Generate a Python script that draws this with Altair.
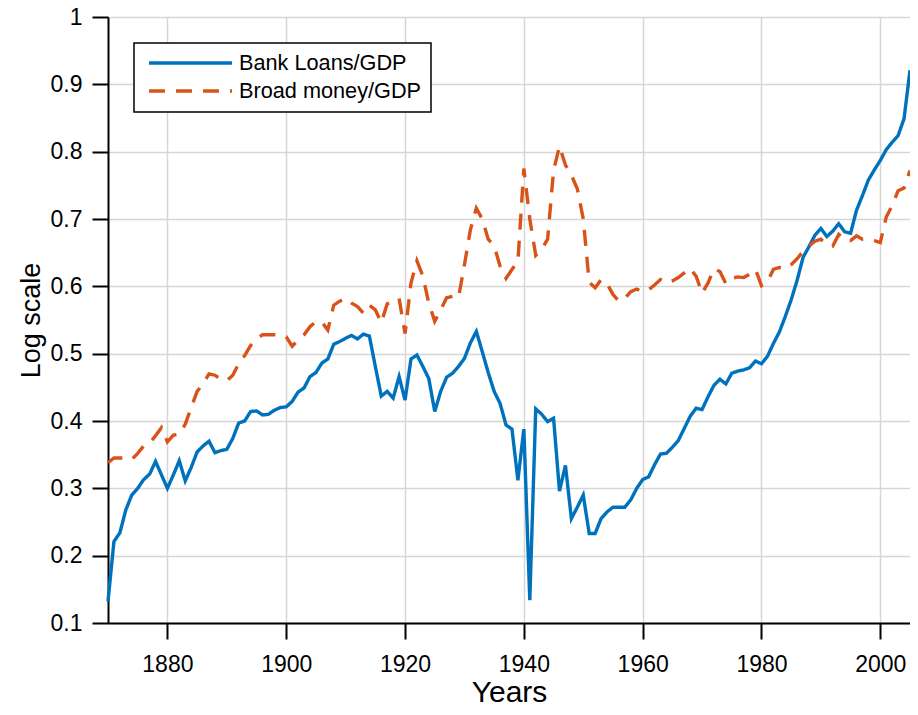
import altair as alt
import pandas as pd

years = list(range(1870, 2006))

bank_loans = [
    0.132, 0.221, 0.234, 0.268, 0.290, 0.300, 0.313, 0.321, 0.340, 0.320,  # 1870s
    0.300, 0.320, 0.341, 0.311, 0.331, 0.354, 0.363, 0.370, 0.353, 0.356,  # 1880s
    0.358, 0.374, 0.397, 0.400, 0.414, 0.415, 0.409, 0.410, 0.416, 0.420,  # 1890s
    0.421, 0.429, 0.443, 0.449, 0.466, 0.472, 0.486, 0.492, 0.514, 0.518,  # 1900s
    0.523, 0.527, 0.522, 0.529, 0.526, 0.481, 0.437, 0.444, 0.434, 0.466,  # 1910s
    0.431, 0.492, 0.498, 0.481, 0.463, 0.414, 0.444, 0.465, 0.471, 0.481,  # 1920s
    0.493, 0.516, 0.533, 0.503, 0.472, 0.444, 0.426, 0.394, 0.388, 0.312,  # 1930s
    0.388, 0.134, 0.418, 0.410, 0.399, 0.404, 0.296, 0.334, 0.255, 0.272,  # 1940s
    0.290, 0.233, 0.233, 0.255, 0.265, 0.272, 0.272, 0.272, 0.283, 0.300,  # 1950s
    0.313, 0.317, 0.335, 0.351, 0.352, 0.361, 0.371, 0.389, 0.407, 0.419,  # 1960s
    0.417, 0.436, 0.453, 0.462, 0.455, 0.471, 0.474, 0.476, 0.479, 0.489,  # 1970s
    0.485, 0.496, 0.515, 0.532, 0.555, 0.580, 0.609, 0.643, 0.659, 0.676,  # 1980s
    0.686, 0.674, 0.682, 0.693, 0.681, 0.679, 0.713, 0.735, 0.758, 0.773,  # 1990s
    0.787, 0.803, 0.814, 0.824, 0.849, 0.921,                              # 2000s
]

broad_money = [
    0.338, 0.345, 0.345, 0.345, 0.343, 0.352, 0.363, 0.367, 0.378, 0.390,  # 1870s
    0.369, 0.379, 0.380, 0.395, 0.420, 0.444, 0.455, 0.470, 0.468, 0.462,  # 1880s
    0.460, 0.468, 0.485, 0.497, 0.512, 0.522, 0.528, 0.528, 0.528, 0.527,  # 1890s
    0.525, 0.511, 0.520, 0.528, 0.540, 0.548, 0.547, 0.535, 0.572, 0.578,  # 1900s
    0.582, 0.575, 0.570, 0.560, 0.572, 0.565, 0.546, 0.574, 0.578, 0.582,  # 1910s
    0.530, 0.605, 0.638, 0.615, 0.575, 0.548, 0.565, 0.583, 0.585, 0.583,  # 1920s
    0.632, 0.684, 0.716, 0.700, 0.670, 0.660, 0.630, 0.612, 0.625, 0.637,  # 1930s
    0.775, 0.700, 0.646, 0.655, 0.670, 0.772, 0.808, 0.780, 0.765, 0.745,  # 1940s
    0.700, 0.606, 0.598, 0.610, 0.604, 0.588, 0.578, 0.582, 0.592, 0.596,  # 1950s
    0.592, 0.595, 0.602, 0.610, 0.605, 0.608, 0.613, 0.620, 0.627, 0.615,  # 1960s
    0.590, 0.605, 0.626, 0.622, 0.604, 0.612, 0.614, 0.613, 0.618, 0.625,  # 1970s
    0.601, 0.607, 0.625, 0.628, 0.626, 0.632, 0.641, 0.652, 0.660, 0.667,  # 1980s
    0.670, 0.662, 0.660, 0.677, 0.668, 0.668, 0.675, 0.670, 0.670, 0.668,  # 1990s
    0.665, 0.703, 0.720, 0.742, 0.746, 0.772,                              # 2000s
]

series_names = ["Bank Loans/GDP", "Broad money/GDP"]
series_colors = ["#0072BD", "#D95319"]
x_ticks = [1880, 1900, 1920, 1940, 1960, 1980, 2000]
y_ticks = [0.1, 0.2, 0.3, 0.4, 0.5, 0.6, 0.7, 0.8, 0.9, 1.0]

df = pd.concat([
    pd.DataFrame({"year": years, "value": bank_loans, "series": series_names[0]}),
    pd.DataFrame({"year": years, "value": broad_money, "series": series_names[1]}),
])

FONT = "Liberation Sans"
LW = 3.4


def make_legend():
    return alt.Legend(
        title=None, orient="none", legendX=26, legendY=26,
        symbolType="M-4.611,0H4.611", symbolSize=324,
        symbolStrokeWidth=LW, symbolOffset=36.5, labelOffset=37.5,
        labelFontSize=21.7, labelFont=FONT, labelColor="black", labelLimit=400,
        strokeColor="black", fillColor="white",
        padding=9, rowPadding=5,
    )


chart = alt.Chart(df).mark_line(strokeWidth=LW).encode(
    x=alt.X("year:Q",
            scale=alt.Scale(domain=[1870, 2005], nice=False, zero=False),
            axis=alt.Axis(values=x_ticks, format="d", title="Years",
                          titleFontSize=30, titleBaseline="alphabetic", titleY=78,
                          labelPadding=14)),
    y=alt.Y("value:Q",
            scale=alt.Scale(domain=[0.1, 1.0], nice=False, zero=False),
            axis=alt.Axis(values=y_ticks, format=".1~f", title="Log scale",
                          titleFontSize=27, titlePadding=5, labelPadding=10)),
    color=alt.Color("series:N",
                    scale=alt.Scale(domain=series_names, range=series_colors),
                    legend=make_legend()),
    strokeDash=alt.StrokeDash("series:N",
                              scale=alt.Scale(domain=series_names, range=[[1, 0], [16, 11]]),
                              legend=make_legend()),
).properties(
    width=802, height=606,
    autosize=alt.AutoSizeParams(type="none"),
    padding={"left": 100, "top": 9, "right": 0, "bottom": 84},
).configure_axis(
    domainColor="black", domainWidth=2,
    tickColor="black", tickWidth=2, tickSize=16,
    labelFont=FONT, labelFontSize=23, labelColor="black",
    titleFont=FONT, titleFontWeight="normal", titleColor="black",
    gridColor="#d6d6d6", gridWidth=1.5,
).configure_legend(
    strokeWidth=1.5,
).configure_view(strokeWidth=0)

chart.save("out.html", embed_options={"renderer": "svg", "actions": False})
